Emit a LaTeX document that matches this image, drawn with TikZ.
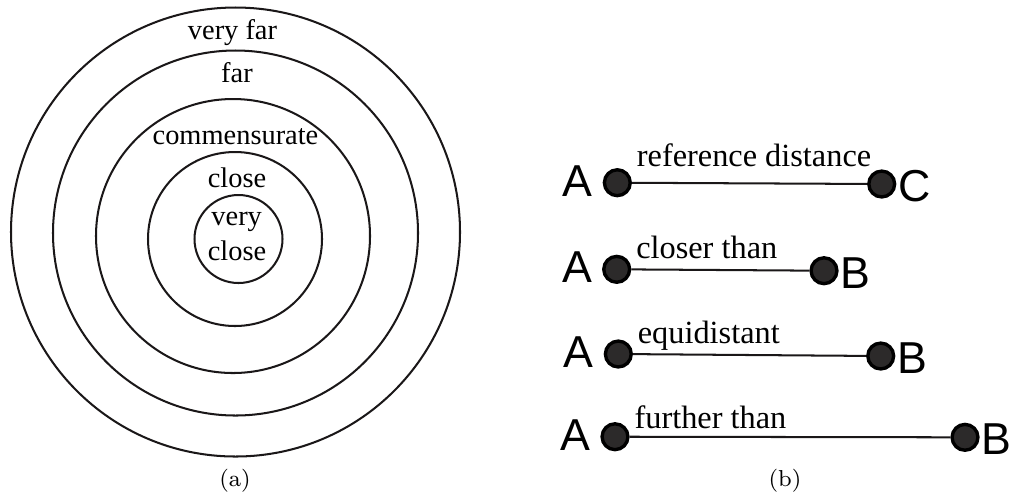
\documentclass[tikz,border=0pt]{standalone}
\usepackage{fontspec}
\newfontfamily\timesfont{Liberation Serif}
\newfontfamily\arialfont{Liberation Sans}
\usetikzlibrary{positioning}
\definecolor{Ink}{HTML}{1A1718}
\tikzset{
  ring/.style={draw=Ink,line width=0.72pt},
  ringtext/.style={anchor=base,inner sep=0pt,font=\timesfont\fontsize{10.1}{12}\selectfont},
  disttext/.style={anchor=base west,inner sep=0pt,font=\timesfont\fontsize{11.5}{13}\selectfont},
  endletter/.style={inner sep=0pt,font=\arialfont\fontsize{15.9}{18}\selectfont},
  dot/.style={circle,draw=black,line width=1.2pt,fill=Ink!92,inner sep=0pt,minimum size=9.2pt},
  capt/.style={anchor=base,inner sep=0pt,font=\fontsize{8.2}{10}\selectfont},
}

\begin{document}
\begin{tikzpicture}[x=0.0125cm,y=-0.0125cm]
\useasboundingbox (0,0) rectangle (1012,500);
% (a) rings
\foreach \cx/\cy/\r in {238.5/239/44,235/239/87,233/236/137,235.5/233/182.5,235.5/232/224.5} {
  \draw[ring] (\cx,\cy) circle[radius=\r];
}
\node[ringtext] (veryfar) at (232.5,39.3) {very far};
\node[ringtext] (far) at (237,82.7) {far};
\node[ringtext] (comm) at (235.5,144) {commensurate};
\node[ringtext] (close) at (237,187.7) {close};
\node[ringtext] (very) at (236.7,225) {very};
\node[ringtext] (vclose) at (237,260.5) {close};
\node[capt] (capa) at (235,486) {(a)};
% (b) distances
\foreach \n/\xa/\ya/\xb/\yb/\ly/\lab/\lb in {
  1/617.3/182.7/881.7/184/166.7/reference distance/C,
  2/616.7/269.3/824/270.7/258.3/closer than/B,
  3/618.3/354/880.7/356/343/equidistant/B,
  4/615/436.7/965/437.3/428.3/further than/B} {
  \node[dot] (a\n) at (\xa,\ya) {};
  \node[dot] (b\n) at (\xb,\yb) {};
  \draw[Ink,line width=0.72pt] (a\n) -- (b\n);
  \node[disttext] (lab\n) at (\xa+19,\ly) {\lab};
  \node[endletter,anchor=base east] (la\n) at (\xa-24,\ya+13.5) {A};
  \node[endletter,anchor=base west] (lb\n) at (\xb+16,\yb+17.5) {\lb};
}
\node[capt] (capb) at (785,486) {(b)};
\end{tikzpicture}
\end{document}
